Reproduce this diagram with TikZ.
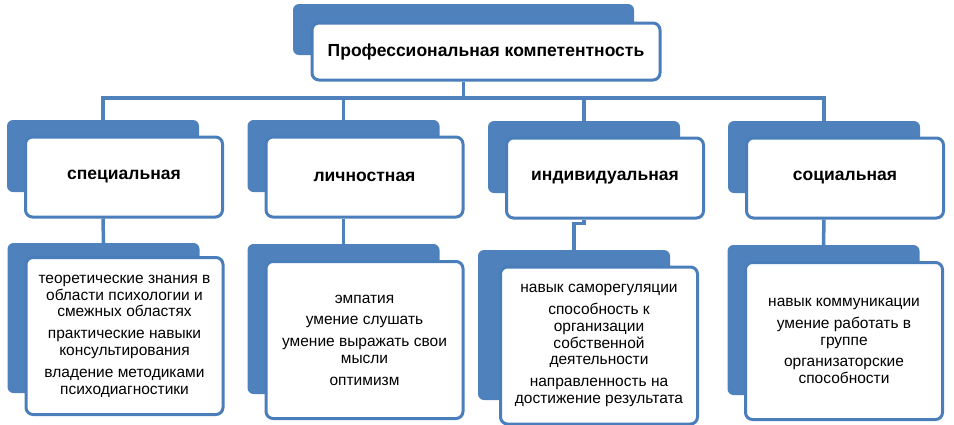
\documentclass[tikz,border=0pt]{standalone}
\usepackage{fontspec}
\setmainfont{Liberation Sans}
\usetikzlibrary{positioning}
\definecolor{OrgBlue}{HTML}{4F81BD}
\definecolor{OrgEdge}{HTML}{4A7EBA}

\begin{document}
\begin{tikzpicture}[
  x=1pt, y=-1pt,
  back/.style={fill=OrgBlue, rounded corners=6pt, inner sep=0pt},
  front/.style={draw=OrgEdge, line width=3pt, fill=white, rounded corners=7pt, align=center, inner sep=0pt},
  head/.style={front, font=\bfseries\fontsize{17.5}{20}\selectfont, minimum width=348pt, minimum height=57pt},
  headback/.style={back, minimum width=341pt, minimum height=51pt},
  kind/.style={front, font=\bfseries\fontsize{17.5}{20}\selectfont, minimum width=197pt, minimum height=80pt},
  kindback/.style={back, minimum width=192pt, minimum height=72pt},
  list/.style={front, font=\fontsize{15.5}{16.8}\selectfont, minimum width=197pt, minimum height=157pt},
  listback/.style={back, minimum width=192pt, minimum height=150pt},
  link/.style={draw=OrgBlue, line width=3.5pt}
]
\useasboundingbox (0,0) rectangle (954,424);

% top level
\node[headback] (topback) at (463.5,29.5) {};
\node[head] (top) at (486,51.5) {Профессиональная компетентность};

% kinds of competence
\node[kindback] (specback) at (103,156) {};
\node[kind] (spec) at (124,177) {специальная};
\node[kindback] (persback) at (343.5,156) {};
\node[kind] (pers) at (364.5,177) {личностная};
\node[kindback] (indback) at (584,157) {};
\node[kind] (ind) at (605,178) {индивидуальная};
\node[kindback] (socback) at (824,157) {};
\node[kind] (soc) at (845,178) {социальная};

% contents
\node[listback] (specinfoback) at (103.5,318) {};
\node[list] (specinfo) at (124.5,336) {теоретические знания в\\области психологии и\\смежных областях\\[5pt]
  практические навыки\\консультирования\\[5pt]владение методиками\\психодиагностики};
\node[listback] (persinfoback) at (343.5,319) {};
\node[list] (persinfo) at (364.5,340) {эмпатия\\[5pt]умение слушать\\[5pt]умение выражать свои\\мысли\\[5pt]оптимизм};
\node[listback] (indinfoback) at (574,325) {};
\node[list] (indinfo) at (599,345.5) {навык саморегуляции\\[5pt]способность к\\организации\\собственной\\деятельности\\[5pt]
  направленность на\\достижение результата};
\node[listback] (socinfoback) at (823.5,320) {};
\node[list] (socinfo) at (844,341) {навык коммуникации\\[5pt]умение работать в\\группе\\[5pt]организаторские\\способности};

% connectors
\coordinate (bar) at (0,98);
\draw[link] (topback.center |- top.south) -- (topback.center |- bar);
\draw[link] (specback.north) |- (topback.center |- bar) -| (socback.north);
\draw[link] (persback.north |- bar) -- (persback.north);
\draw[link] (indback.north |- bar) -- (indback.north);

\draw[link] (specback.center |- spec.south) -- (specinfoback.north);
\draw[link] (persback.center |- pers.south) -- (persinfoback.north);
\draw[link] (indback.center |- ind.south) -- ++(0,4) -| (indinfoback.north);
\draw[link] (socback.center |- soc.south) -- (socinfoback.north);
\end{tikzpicture}
\end{document}
